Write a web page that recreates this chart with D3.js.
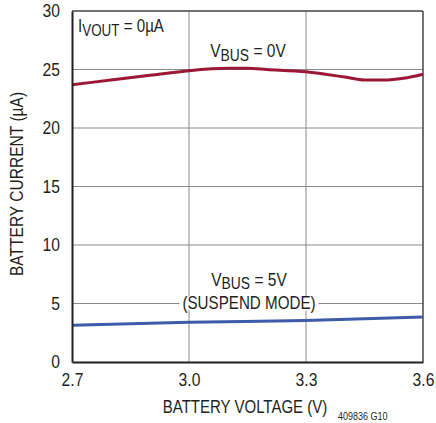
<!DOCTYPE html>
<html><head><meta charset="utf-8">
<script src="https://cdn.jsdelivr.net/npm/d3@7"></script>
<style>
body{margin:0;background:#fff;}
text{font-family:"Liberation Sans Narrow","Liberation Sans",Arial,sans-serif;fill:#231f20;}
</style></head>
<body><svg id="c" width="436" height="423" style="display:block"></svg>
<script>
const xTicks = [2.7, 3.0, 3.3, 3.6];
const yTicks = [0, 5, 10, 15, 20, 25, 30];
const vbus0V = [2.7, 2.8, 2.9, 3.0, 3.1, 3.15, 3.2, 3.3, 3.4, 3.45, 3.5, 3.55, 3.6];
const vbus0I = [23.7, 24.1, 24.5, 24.9, 25.1, 25.1, 25.0, 24.8, 24.35, 24.1, 24.1, 24.25, 24.6];
const vbus5V = [2.7, 3.0, 3.3, 3.6];
const vbus5I = [3.15, 3.4, 3.55, 3.85];

const svg = d3.select("#c");
const m = {l:72, r:423, t:11, b:362};
const x = d3.scaleLinear().domain([2.7, 3.6]).range([m.l, m.r]);
const y = d3.scaleLinear().domain([0, 30]).range([m.b, m.t]);

// grid
const g = svg.append("g");
g.selectAll(".vg").data(xTicks.slice(1, -1)).enter().append("line")
  .attr("x1", d=>x(d)).attr("x2", d=>x(d)).attr("y1", m.t).attr("y2", m.b)
  .attr("stroke", "#8a8a8a").attr("stroke-width", 1);
g.selectAll(".hg").data(yTicks.slice(1, -1)).enter().append("line")
  .attr("x1", m.l).attr("x2", m.r).attr("y1", d=>y(d)).attr("y2", d=>y(d))
  .attr("stroke", "#8a8a8a").attr("stroke-width", 1);

// frame
svg.append("line").attr("x1", m.l).attr("x2", m.r).attr("y1", m.t).attr("y2", m.t).attr("stroke", "#444").attr("stroke-width", 1.5);
svg.append("line").attr("x1", m.r).attr("x2", m.r).attr("y1", m.t).attr("y2", m.b).attr("stroke", "#444").attr("stroke-width", 1.5);

// narrow text helper
function txt(parent, px, py, size, sx, anchor, rot) {
  return parent.append("text")
    .attr("transform", `translate(${px},${py})${rot ? ` rotate(${rot})` : ""} scale(${sx},1)`)
    .attr("text-anchor", anchor || "start").style("font-size", size + "px");
}
function subLabel(px, py, main, sub, rest, size, sx, anchor, dy) {
  const t = txt(svg, px, py, size, sx, anchor);
  t.append("tspan").text(main);
  t.append("tspan").attr("dy", dy).style("font-size", (size - 2) + "px").text(sub);
  t.append("tspan").attr("dy", -dy).text(rest);
  return t;
}

const susp = txt(svg, 249, 309, 18.5, 0.82, "middle").text("(SUSPEND MODE)");
const r = susp.node().getBoundingClientRect();
svg.insert("rect", "text").attr("x", r.left - 3).attr("y", r.top + 4).attr("width", r.width + 6).attr("height", r.height - 7).attr("fill", "#fff");
subLabel(249, 286, "V", "BUS", " = 5V", 18.5, 0.84, "middle", 2.5);
subLabel(248, 57, "V", "BUS", " = 0V", 18.5, 0.84, "middle", 4);
subLabel(78, 32, "I", "VOUT", " = 0µA", 18, 0.84, "start", 4);

// lines
const line = d3.line().x(d=>x(d[0])).y(d=>y(d[1])).curve(d3.curveMonotoneX);
svg.append("path").datum(vbus0V.map((v,i)=>[v, vbus0I[i]])).attr("d", line)
  .attr("fill", "none").attr("stroke", "#9c1636").attr("stroke-width", 3);
svg.append("path").datum(vbus5V.map((v,i)=>[v, vbus5I[i]])).attr("d", line)
  .attr("fill", "none").attr("stroke", "#3d5ba9").attr("stroke-width", 3);

// axes
const xa = svg.append("g").attr("transform", `translate(0,${m.b})`)
  .call(d3.axisBottom(x).tickValues(xTicks).tickFormat(d3.format(".1f")).tickSize(0).tickPadding(11));
const ya = svg.append("g").attr("transform", `translate(${m.l},0)`)
  .call(d3.axisLeft(y).tickValues(yTicks).tickSize(0).tickPadding(12));
[xa, ya].forEach(a => {
  a.select(".domain").attr("stroke", "#231f20").attr("stroke-width", 2);
  a.selectAll("text").style("font-size", "18px").attr("fill", "#231f20")
    .style("font-family", '"Liberation Sans Narrow","Liberation Sans",Arial,sans-serif');
});
xa.selectAll("text").attr("transform", "scale(0.87,1)");
ya.selectAll("text").attr("x", -12 / 0.87).attr("transform", "scale(0.87,1)");

txt(svg, 245, 413, 19, 0.79, "middle").text("BATTERY VOLTAGE (V)");
txt(svg, 23, 184, 19, 0.82, "middle", -90).text("BATTERY CURRENT (µA)");
txt(svg, 338, 420, 10, 0.9, "start").text("409836 G10");
</script></body></html>
